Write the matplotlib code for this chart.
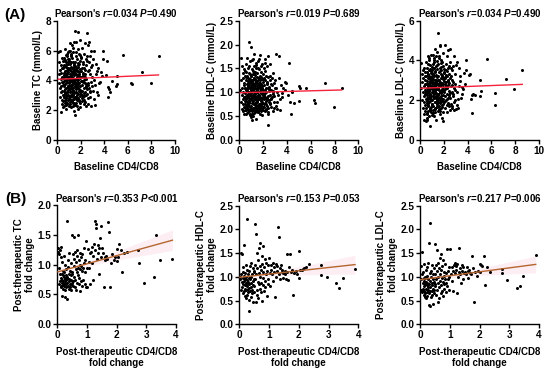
import numpy as np
import matplotlib
matplotlib.use("Agg")
import matplotlib.pyplot as plt
from matplotlib.ticker import FormatStrFormatter

plt.rcParams['font.family'] = ['Liberation Sans', 'DejaVu Sans']
plt.rcParams['font.weight'] = 'bold'
plt.rcParams['mathtext.fontset'] = 'custom'
plt.rcParams['mathtext.it'] = 'Liberation Sans:italic:bold'
plt.rcParams['mathtext.rm'] = 'Liberation Sans:bold'
plt.rcParams['mathtext.bf'] = 'Liberation Sans:bold'

# ---------------- Row A: baseline values (shared x = baseline CD4/CD8) ----------------
base_cd4cd8 = [
    # > 3
    8.60, 7.93, 7.20, 6.30, 6.32, 5.60, 5.05, 5.10, 5.00, 4.62, 4.35, 4.40, 4.30, 4.45, 4.20,
    3.90, 3.85, 4.10, 3.80, 3.60, 3.50, 3.40, 3.30, 3.25, 3.20, 3.15, 3.10, 3.10, 3.05, 3.35,
    3.45, 3.70, 3.20, 3.00, 3.55,
    # 2.5 - 3
    2.52, 2.55, 2.58, 2.60, 2.62, 2.65, 2.68, 2.70, 2.72, 2.75, 2.78, 2.80, 2.82, 2.85, 2.88,
    2.90, 2.92, 2.95, 2.97, 2.60, 2.70, 2.80, 2.55, 2.65, 2.85,
    # 2 - 2.5
    2.02, 2.04, 2.05, 2.07, 2.08, 2.10, 2.12, 2.13, 2.15, 2.17,
    2.18, 2.20, 2.22, 2.23, 2.25, 2.27, 2.28, 2.30, 2.32, 2.33,
    2.35, 2.37, 2.38, 2.40, 2.42, 2.43, 2.45, 2.47, 2.48, 2.50,
    2.03, 2.09, 2.14, 2.19, 2.24, 2.29, 2.34, 2.39, 2.44, 2.49,
    2.06, 2.16, 2.26, 2.36, 2.46,
    # 1.5 - 2
    1.50, 1.51, 1.52, 1.53, 1.54, 1.55, 1.56, 1.57, 1.58, 1.59,
    1.60, 1.61, 1.62, 1.63, 1.64, 1.65, 1.66, 1.67, 1.68, 1.69,
    1.70, 1.71, 1.72, 1.73, 1.74, 1.75, 1.76, 1.77, 1.78, 1.79,
    1.80, 1.81, 1.82, 1.83, 1.84, 1.85, 1.86, 1.87, 1.88, 1.89,
    1.90, 1.91, 1.92, 1.93, 1.94, 1.95, 1.96, 1.97, 1.98, 1.99,
    1.50, 1.53, 1.56, 1.59, 1.62, 1.65, 1.68, 1.71, 1.74, 1.77,
    1.80, 1.83, 1.86, 1.89, 1.92, 1.95, 1.98, 1.55, 1.65, 1.75,
    # 1 - 1.5
    1.00, 1.01, 1.02, 1.03, 1.04, 1.05, 1.06, 1.07, 1.08, 1.09,
    1.10, 1.11, 1.12, 1.13, 1.14, 1.15, 1.16, 1.17, 1.18, 1.19,
    1.20, 1.21, 1.22, 1.23, 1.24, 1.25, 1.26, 1.27, 1.28, 1.29,
    1.30, 1.31, 1.32, 1.33, 1.34, 1.35, 1.36, 1.37, 1.38, 1.39,
    1.40, 1.41, 1.42, 1.43, 1.44, 1.45, 1.46, 1.47, 1.48, 1.49,
    1.00, 1.03, 1.06, 1.09, 1.12, 1.15, 1.18, 1.21, 1.24, 1.27,
    1.30, 1.33, 1.36, 1.39, 1.42, 1.45, 1.48, 1.02, 1.08, 1.14,
    1.20, 1.26, 1.32, 1.38, 1.44, 1.05, 1.15, 1.25, 1.35, 1.45,
    1.10, 1.22, 1.31, 1.40, 1.47,
    # 0.5 - 1
    0.50, 0.51, 0.52, 0.53, 0.54, 0.55, 0.56, 0.57, 0.58, 0.59,
    0.60, 0.61, 0.62, 0.63, 0.64, 0.65, 0.66, 0.67, 0.68, 0.69,
    0.70, 0.71, 0.72, 0.73, 0.74, 0.75, 0.76, 0.77, 0.78, 0.79,
    0.80, 0.81, 0.82, 0.83, 0.84, 0.85, 0.86, 0.87, 0.88, 0.89,
    0.90, 0.91, 0.92, 0.93, 0.94, 0.95, 0.96, 0.97, 0.98, 0.99,
    0.52, 0.56, 0.60, 0.64, 0.68, 0.72, 0.76, 0.80, 0.84, 0.88,
    0.92, 0.96, 0.55, 0.65, 0.75, 0.85, 0.95, 0.58, 0.70, 0.82,
    0.94, 0.62, 0.78, 0.90, 0.98,
    # 0 - 0.5
    0.08, 0.12, 0.15, 0.18, 0.20, 0.22, 0.24, 0.26, 0.28, 0.30,
    0.31, 0.32, 0.34, 0.35, 0.36, 0.38, 0.39, 0.40, 0.42, 0.43,
    0.44, 0.45, 0.46, 0.48, 0.49,
]

base_tc = [
    5.61, 3.84, 4.56, 3.84, 3.78, 5.70, 4.31, 3.76, 3.65, 3.94, 3.55, 3.40, 2.90, 3.20, 5.28,
    5.95, 5.40, 4.35, 4.30, 3.90, 4.80, 3.20, 5.10, 4.40, 3.70, 2.75, 5.95, 4.05, 3.30, 4.60,
    3.05, 4.55, 2.35, 5.45, 3.80,
    7.20, 3.10, 4.60, 6.40, 3.80, 2.40, 5.20, 6.60, 3.50, 5.60, 2.90, 4.40, 3.30, 4.90, 2.30,
    3.90, 5.00, 3.60, 4.20, 2.80, 4.70, 3.20, 5.30, 3.70, 6.00,
    4.20, 3.10, 5.50, 2.60, 4.80, 3.70, 6.20, 3.30, 4.50, 2.90,
    5.10, 3.90, 4.30, 2.40, 5.80, 3.50, 4.00, 2.70, 4.70, 3.20,
    6.50, 3.80, 4.40, 2.30, 5.00, 3.60, 4.10, 3.00, 5.40, 3.40,
    4.60, 2.80, 3.95, 5.25, 3.15, 4.85, 2.55, 4.25, 3.75, 5.65,
    3.05, 4.45, 2.95, 4.15, 3.55,
    7.33, 3.80, 4.50, 2.90, 5.20, 3.40, 4.10, 2.50, 4.70, 3.60,
    6.60, 3.20, 4.40, 5.60, 2.70, 3.90, 4.80, 3.00, 5.40, 3.70,
    4.20, 2.30, 5.00, 3.50, 4.60, 6.10, 3.10, 4.00, 7.24, 2.80,
    4.90, 3.30, 5.80, 4.30, 2.60, 3.85, 5.10, 3.45, 4.55, 2.20,
    6.70, 3.65, 4.15, 2.95, 5.30, 3.25, 4.75, 2.45, 3.95, 5.55,
    1.70, 4.05, 3.55, 5.90, 2.85, 4.35, 3.15, 4.65, 2.05, 5.15,
    3.75, 4.45, 2.65, 3.35, 4.25, 5.70, 3.05, 4.85, 2.75, 3.60,
    4.10, 2.80, 5.30, 3.60, 4.70, 3.20, 6.00, 3.90, 2.40, 4.40,
    5.10, 3.40, 4.00, 2.70, 5.70, 3.70, 4.60, 3.00, 4.90, 2.20,
    4.30, 3.50, 6.40, 3.10, 4.80, 2.60, 4.20, 5.50, 3.30, 3.95,
    2.90, 4.50, 3.80, 5.90, 2.50, 4.15, 3.25, 5.20, 4.05, 1.95,
    4.65, 3.55, 5.00, 2.75, 4.35, 6.60, 3.15, 3.85, 4.95, 2.35,
    5.40, 3.45, 4.25, 2.95, 4.85, 3.65, 5.80, 2.65, 4.55, 3.05,
    4.00, 6.20, 3.35, 4.75, 2.45, 5.15, 3.75, 4.20, 2.85, 5.60,
    3.50, 4.40, 3.00, 4.90, 3.90, 2.55, 5.25, 3.70, 4.60, 3.20,
    6.50, 4.10, 2.30, 5.05, 3.60,
    3.90, 2.60, 4.80, 3.30, 5.50, 2.90, 4.20, 3.60, 5.00, 2.30,
    4.50, 3.70, 6.10, 3.10, 4.00, 2.70, 5.30, 3.40, 4.60, 2.50,
    3.80, 5.70, 3.00, 4.30, 2.80, 4.90, 3.50, 5.20, 2.10, 4.10,
    3.20, 4.70, 2.40, 5.80, 3.90, 4.40, 2.95, 5.10, 3.65, 4.25,
    2.65, 4.85, 3.35, 5.45, 3.05, 4.55, 2.25, 3.85, 6.00, 3.45,
    4.15, 2.85, 4.95, 3.75, 5.35, 2.55, 4.05, 3.25, 4.65, 3.55,
    5.90, 2.75, 4.35, 3.15, 5.05, 2.45, 4.75, 3.95, 2.35, 5.60,
    3.60, 4.50, 3.00, 5.25, 4.00,
    5.90, 4.40, 3.80, 5.20, 6.00, 3.50, 4.70, 2.90, 4.10, 3.60,
    1.86, 5.00, 3.20, 4.50, 2.40, 3.90, 5.50, 2.70, 4.20, 3.30,
    4.80, 2.20, 3.70, 5.30, 3.00,
]

base_hdl = [
    1.10, 0.69, 1.19, 0.83, 0.77, 1.09, 1.13, 1.09, 0.82, 0.77, 0.55, 1.03, 0.80, 1.00, 1.62,
    1.20, 1.22, 0.95, 1.05, 0.90, 1.15, 0.85, 1.30, 0.95, 0.65, 1.00, 1.80, 1.08, 0.72, 1.75,
    0.62, 1.10, 0.80, 1.25, 0.98,
    1.10, 0.75, 1.25, 0.95, 1.60, 0.85, 1.05, 0.70, 1.30, 0.90, 1.15, 0.60, 1.00, 1.40, 0.80,
    1.20, 0.92, 0.68, 1.08, 1.35, 0.88, 1.02, 0.78, 1.18, 0.96,
    0.95, 1.30, 0.70, 1.15, 0.85, 1.50, 0.60, 1.05, 1.25, 0.78,
    1.70, 0.90, 1.10, 0.65, 1.35, 0.82, 1.00, 1.55, 0.72, 1.20,
    0.88, 1.08, 0.55, 0.32, 0.92, 1.75, 0.68, 1.12, 0.80, 1.02,
    1.28, 0.75, 0.98, 1.45, 0.62, 1.18, 0.86, 1.32, 0.58, 1.06,
    0.94, 1.62, 0.76, 1.22, 0.84,
    1.05, 0.80, 1.40, 0.65, 1.15, 0.92, 1.65, 0.72, 1.00, 1.25,
    0.58, 1.10, 0.85, 1.48, 0.70, 1.20, 0.95, 0.62, 1.30, 0.88,
    1.78, 0.75, 1.08, 0.55, 1.35, 0.90, 1.12, 0.68, 1.02, 1.55,
    0.82, 1.18, 0.60, 0.98, 1.42, 0.74, 1.06, 0.86, 1.28, 0.52,
    0.96, 1.60, 0.78, 1.14, 0.66, 1.22, 0.90, 1.04, 0.70, 1.38,
    0.84, 1.12, 0.58, 0.94, 1.70, 0.76, 1.16, 0.64, 1.26, 0.88,
    1.00, 0.72, 1.32, 0.80, 1.10, 0.62, 0.98, 1.50, 0.86, 1.20,
    0.98, 1.35, 0.72, 1.12, 0.60, 1.48, 0.88, 1.05, 0.78, 1.25,
    0.55, 1.15, 0.92, 1.70, 0.68, 1.02, 1.38, 0.82, 1.20, 0.50,
    1.08, 0.95, 1.55, 0.75, 1.30, 0.62, 1.00, 1.80, 0.85, 1.18,
    0.70, 1.42, 0.90, 1.10, 0.58, 1.28, 0.96, 1.62, 0.80, 1.06,
    0.45, 1.22, 0.88, 1.50, 0.74, 1.14, 0.66, 1.04, 1.32, 0.92,
    1.94, 0.84, 1.16, 0.64, 1.26, 0.94, 1.45, 0.76, 1.08, 0.56,
    1.36, 0.86, 1.00, 1.58, 0.70, 1.20, 0.82, 1.12, 0.42, 1.04,
    0.96, 1.40, 0.78, 1.24, 0.60, 1.10, 0.90, 1.30, 0.68, 1.02,
    1.68, 0.88, 1.14, 0.74, 1.00,
    1.10, 0.75, 1.45, 0.92, 0.62, 1.25, 0.85, 1.60, 0.70, 1.05,
    0.55, 1.35, 0.95, 0.68, 1.18, 0.80, 1.72, 0.88, 1.02, 0.58,
    1.30, 0.76, 1.12, 0.90, 0.64, 1.50, 0.82, 1.20, 2.05, 0.72,
    1.00, 1.40, 0.60, 0.94, 1.15, 0.78, 1.65, 0.86, 1.08, 0.52,
    1.28, 0.70, 0.98, 1.38, 0.84, 1.22, 0.66, 1.04, 0.48, 1.16,
    0.90, 1.32, 0.74, 1.06, 0.56, 1.24, 0.96, 1.55, 0.80, 1.10,
    0.62, 1.00, 1.42, 0.72, 1.14, 0.88, 1.34, 0.68, 0.94, 1.20,
    0.54, 1.02, 0.82, 1.26, 0.92,
    1.05, 1.72, 0.80, 1.25, 0.95, 1.55, 0.65, 1.10, 0.85, 1.40,
    0.60, 1.00, 1.30, 0.75, 1.15, 0.55, 0.90, 1.20, 0.70, 1.48,
    0.82, 1.08, 0.62, 0.98, 1.35,
]

base_ldl = [
    3.54, 2.58, 3.08, 2.36, 1.78, 4.07, 3.00, 2.45, 2.22, 2.25, 1.34, 2.25, 2.06, 2.30, 3.30,
    4.04, 3.50, 3.25, 2.80, 2.55, 2.30, 2.95, 3.60, 2.70, 2.05, 1.75, 3.90, 2.40, 1.55, 3.20,
    2.10, 3.35, 1.60, 3.75, 2.65,
    4.60, 2.10, 3.20, 2.70, 1.80, 3.50, 2.40, 3.00, 1.60, 2.90, 3.70, 2.20, 2.60, 4.20, 1.90,
    2.80, 3.30, 2.00, 2.50, 3.60, 1.70, 2.30, 3.10, 2.75, 1.50,
    2.50, 3.40, 1.90, 2.80, 4.80, 2.20, 3.10, 1.60, 2.70, 3.80,
    2.00, 2.90, 3.50, 1.40, 2.60, 3.20, 2.30, 4.20, 1.80, 2.75,
    3.00, 2.10, 3.60, 1.70, 2.45, 3.30, 2.15, 2.85, 1.50, 3.90,
    2.40, 3.15, 1.95, 2.65, 3.45, 2.05, 2.95, 1.85, 3.70, 2.35,
    2.55, 3.25, 1.75, 4.55, 2.25,
    2.60, 5.38, 1.90, 3.20, 2.30, 3.80, 1.50, 2.80, 3.40, 2.10,
    4.20, 2.50, 1.70, 3.00, 2.90, 4.75, 1.30, 2.40, 3.60, 2.00,
    4.80, 2.70, 1.85, 3.30, 2.20, 3.10, 1.60, 2.75, 4.00, 2.35,
    3.50, 1.95, 2.85, 1.10, 3.25, 2.45, 3.90, 1.75, 2.55, 3.15,
    2.05, 4.40, 2.65, 1.40, 3.05, 2.25, 3.70, 1.80, 2.95, 3.35,
    2.15, 3.00, 1.55, 2.70, 4.10, 2.40, 1.90, 3.45, 2.85, 2.10,
    3.65, 1.65, 2.50, 3.20, 0.95, 2.80, 3.55, 2.30, 1.45, 3.85,
    2.70, 3.50, 1.80, 2.40, 3.10, 2.00, 4.30, 2.60, 1.50, 3.30,
    2.20, 2.90, 3.80, 1.70, 2.50, 3.20, 1.20, 2.80, 3.60, 2.30,
    4.00, 2.10, 2.75, 1.60, 3.40, 2.45, 1.90, 4.60, 2.65, 3.00,
    1.40, 2.55, 3.70, 2.15, 2.85, 1.00, 3.25, 2.35, 4.20, 1.85,
    2.95, 2.05, 3.55, 1.65, 2.60, 3.15, 1.95, 4.45, 2.25, 2.80,
    1.75, 3.35, 2.50, 1.35, 3.05, 2.70, 3.90, 2.10, 2.40, 1.55,
    3.45, 2.20, 2.90, 1.80, 3.75, 2.55, 1.45, 3.20, 2.35, 2.65,
    4.10, 1.90, 2.75, 3.00, 2.05, 1.25, 3.60, 2.45, 2.85, 1.70,
    3.30, 2.15, 2.60, 3.95, 2.00,
    2.40, 3.20, 1.60, 2.80, 3.90, 2.10, 2.60, 1.30, 3.40, 2.25,
    1.00, 2.95, 3.60, 1.85, 2.50, 4.20, 2.05, 3.10, 1.45, 2.70,
    3.30, 1.70, 2.35, 4.00, 2.15, 2.85, 1.20, 3.50, 2.45, 1.90,
    3.05, 0.69, 2.60, 3.75, 1.55, 2.30, 3.15, 1.95, 2.75, 4.30,
    2.00, 1.40, 2.90, 3.45, 2.20, 1.65, 3.00, 2.55, 1.80, 3.65,
    2.35, 1.10, 2.80, 3.25, 1.75, 2.50, 4.10, 2.10, 2.95, 1.50,
    3.35, 2.65, 1.95, 3.80, 2.25, 1.60, 3.00, 2.40, 1.85, 3.55,
    2.70, 1.35, 3.20, 2.05, 2.85,
    3.85, 2.60, 3.30, 2.00, 2.90, 3.50, 1.60, 2.40, 3.10, 1.00,
    2.70, 1.90, 3.60, 2.20, 1.30, 2.80, 3.40, 1.75, 2.50, 3.00,
    1.45, 2.30, 3.20, 2.05, 0.95,
]

# ---------------- Row B: post-therapeutic fold changes (shared x) ----------------
post_cd4cd8 = [
    3.89, 3.47, 3.35, 3.25, 2.94, 2.76, 2.74, 2.35, 2.24, 2.18, 2.15, 2.10, 2.05, 2.02, 2.00,
    1.52, 1.55, 1.58, 1.60, 1.62, 1.65, 1.68, 1.72, 1.75, 1.78, 1.82, 1.85, 1.90, 1.95,
    1.02, 1.04, 1.06, 1.08, 1.10, 1.12, 1.14, 1.16, 1.18, 1.20, 1.22, 1.24,
    1.26, 1.28, 1.30, 1.32, 1.34, 1.36, 1.38, 1.40, 1.42, 1.44, 1.46, 1.48,
    0.50, 0.51, 0.52, 0.53, 0.54, 0.55, 0.56, 0.57, 0.58, 0.59,
    0.60, 0.61, 0.62, 0.63, 0.64, 0.65, 0.66, 0.67, 0.68, 0.69,
    0.70, 0.71, 0.72, 0.73, 0.74, 0.75, 0.76, 0.77, 0.78, 0.79,
    0.80, 0.81, 0.82, 0.84, 0.85, 0.86, 0.88, 0.89, 0.90, 0.92,
    0.93, 0.95, 0.96, 0.97, 0.99,
    0.02, 0.03, 0.05, 0.06, 0.07, 0.08, 0.09, 0.10, 0.11, 0.12,
    0.12, 0.13, 0.14, 0.15, 0.15, 0.16, 0.17, 0.18, 0.18, 0.19,
    0.20, 0.20, 0.21, 0.22, 0.22, 0.23, 0.24, 0.25, 0.25, 0.26,
    0.27, 0.27, 0.28, 0.29, 0.30, 0.30, 0.31, 0.32, 0.33, 0.34,
    0.34, 0.35, 0.36, 0.37, 0.38, 0.39, 0.40, 0.40, 0.41, 0.42,
    0.43, 0.44, 0.45, 0.45, 0.46, 0.47, 0.48, 0.48, 0.49, 0.26,
    0.33, 0.17,
]

post_tc = [
    1.09, 1.08, 1.50, 0.80, 0.69, 1.02, 1.24, 1.22, 1.20, 0.88, 1.25, 1.35, 1.13, 1.06, 1.26,
    1.28, 1.20, 0.62, 1.12, 1.07, 1.15, 1.10, 1.71, 1.55, 0.63, 1.02, 1.18, 1.08, 1.13,
    0.62, 1.27, 0.95, 1.05, 1.20, 0.68, 1.22, 1.30, 1.02, 1.15, 0.75, 1.35,
    1.74, 1.25, 1.68, 1.62, 1.10, 1.33, 1.20, 0.85, 1.28, 1.45, 1.65, 1.12,
    1.50, 0.85, 0.72, 1.18, 0.65, 1.46, 0.98, 0.80, 1.10, 0.62,
    1.22, 0.75, 0.92, 1.05, 0.58, 1.15, 0.88, 0.70, 1.25, 0.95,
    1.50, 0.82, 0.68, 1.08, 0.78, 1.20, 0.92, 0.55, 1.00, 0.72,
    0.98, 1.12, 0.65, 0.90, 1.18, 0.75, 0.95, 1.02, 1.28, 0.68,
    1.08, 0.88, 1.40, 0.62, 0.95,
    1.28, 1.22, 0.95, 1.18, 0.68, 1.25, 0.72, 0.85, 1.12, 0.65,
    0.78, 1.30, 0.62, 0.70, 1.05, 0.48, 0.75, 0.82, 0.66, 0.90,
    0.60, 0.72, 1.15, 0.68, 0.80, 0.64, 0.88, 0.70, 0.58, 0.76,
    0.45, 1.00, 0.67, 0.82, 0.74, 0.92, 0.62, 1.74, 0.43, 0.78,
    0.70, 0.96, 0.65, 1.08, 0.72, 0.84, 0.60, 0.76, 1.20, 0.68,
    0.90, 0.63, 0.75, 1.02, 0.58, 0.82, 0.70, 0.66, 0.88, 0.73,
    0.80, 0.85,
]

post_hdl = [
    1.17, 0.97, 0.76, 0.88, 0.99, 1.04, 1.24, 1.28, 1.21, 1.19, 1.16, 1.14, 1.15, 0.97, 1.54,
    1.05, 1.12, 0.95, 1.48, 1.10, 0.93, 1.20, 1.49, 1.10, 1.15, 0.62, 1.08, 1.12, 1.05,
    1.08, 0.80, 1.25, 1.15, 1.05, 1.30, 0.92, 1.20, 1.10, 0.57, 1.28, 1.00,
    1.12, 1.22, 2.06, 1.05, 1.84, 1.18, 0.95, 1.25, 1.10, 1.15, 0.98, 1.08,
    1.12, 0.80, 2.12, 1.25, 0.95, 0.48, 1.05, 1.91, 0.72, 1.50,
    1.18, 0.62, 0.90, 1.35, 0.55, 1.08, 0.85, 1.60, 1.22, 0.75,
    1.00, 1.72, 0.68, 1.15, 0.88, 1.45, 0.50, 1.28, 0.98, 0.82,
    1.10, 1.65, 0.70, 1.20, 0.92, 1.38, 0.78, 1.05, 1.30, 0.60,
    1.12, 0.95, 1.25, 0.85, 1.40,
    1.00, 0.95, 1.50, 0.72, 1.05, 0.90, 1.48, 0.78, 1.10, 0.65,
    0.98, 0.85, 1.20, 0.70, 1.02, 0.92, 1.67, 0.75, 0.60, 1.08,
    0.82, 0.95, 0.55, 1.25, 0.88, 0.72, 1.00, 0.62, 0.94, 1.15,
    2.23, 0.80, 0.68, 1.05, 0.90, 0.75, 0.52, 0.98, 1.12, 0.29,
    0.85, 0.70, 1.22, 0.95, 0.58, 1.00, 0.78, 1.30, 0.88, 0.65,
    1.05, 0.72, 0.92, 0.48, 1.18, 0.82, 0.96, 0.68, 1.10, 0.86,
    0.76, 0.99,
]

post_ldl = [
    1.46, 1.02, 0.80, 0.76, 0.93, 1.08, 1.17, 1.10, 1.20, 0.83, 1.45, 1.22, 1.25, 1.28, 1.10,
    1.10, 1.05, 1.20, 1.12, 0.98, 1.15, 1.08, 1.05, 1.44, 1.18, 0.46, 1.10, 1.02, 1.12,
    1.58, 1.05, 0.92, 1.20, 1.12, 0.70, 1.25, 1.30, 1.08, 1.22, 1.15, 0.65,
    1.28, 1.00, 1.61, 1.10, 1.18, 1.05, 0.88, 1.25, 1.12, 1.20, 0.95, 1.08,
    1.70, 0.85, 1.05, 0.62, 1.25, 0.95, 1.56, 0.72, 1.12, 0.48,
    1.30, 0.88, 1.00, 0.55, 1.18, 0.78, 1.40, 0.92, 1.05, 0.65,
    1.48, 0.82, 1.15, 0.98, 0.70, 1.22, 0.90, 0.60, 1.35, 1.02,
    0.85, 1.10, 0.75, 1.28, 0.95, 0.68, 1.08, 0.88, 1.58, 0.80,
    1.12, 0.95, 1.20, 0.72, 1.00,
    0.95, 1.22, 0.72, 1.05, 0.68, 1.52, 0.88, 0.75, 1.10, 0.62,
    0.98, 0.80, 1.28, 0.70, 0.92, 0.58, 1.00, 0.85, 0.66, 1.15,
    0.74, 0.90, 0.55, 1.20, 0.82, 0.68, 1.02, 0.60, 0.88, 0.78,
    0.95, 1.30, 0.72, 1.72, 0.40, 0.85, 0.65, 1.08, 0.92, 2.14,
    0.38, 0.78, 1.00, 0.58, 1.12, 0.70, 0.88, 0.62, 1.25, 0.82,
    0.95, 0.43, 0.75, 1.05, 0.66, 0.90, 0.72, 1.18, 0.80, 0.86,
    0.70, 0.98,
]

# Regression lines: (intercept, slope)
fit_base_tc, fit_base_hdl, fit_base_ldl = (4.07, 0.034), (0.99, 0.0068), (2.60, 0.023)
fit_post_tc, fit_post_hdl, fit_post_ldl = (0.877, 0.137), (0.99, 0.069), (0.94, 0.083)

stats_text = [
    "Pearson's $r$=0.034 $P$=0.490",
    "Pearson's $r$=0.019 $P$=0.689",
    "Pearson's $r$=0.034 $P$=0.490",
    "Pearson's $r$=0.353 $P$<0.001",
    "Pearson's $r$=0.153 $P$=0.053",
    "Pearson's $r$=0.217 $P$=0.006",
]

for lst in (base_tc, base_hdl, base_ldl):
    assert len(lst) == len(base_cd4cd8), (len(lst), len(base_cd4cd8))
for lst in (post_tc, post_hdl, post_ldl):
    assert len(lst) == len(post_cd4cd8), (len(lst), len(post_cd4cd8))

fig = plt.figure(figsize=(5.5, 3.72), dpi=100)

W, H = 550.0, 372.0
def rect(l, r, t, b):
    return [l / W, 1 - b / H, (r - l) / W, (b - t) / H]

panels = [
    dict(pos=rect(57.3, 175.0, 20.7, 140.0), x=base_cd4cd8, y=base_tc, fit=fit_base_tc,
         xlim=(0, 10), xt=[0, 2, 4, 6, 8, 10], ylim=(0, 8), yt=[0, 2, 4, 6, 8], yf='%d',
         yl="Baseline TC (mmol/L)", xl="Baseline CD4/CD8", col='#f5223c', band=False),
    dict(pos=rect(239.3, 358.3, 20.7, 140.0), x=base_cd4cd8, y=base_hdl, fit=fit_base_hdl,
         xlim=(0, 10), xt=[0, 2, 4, 6, 8, 10], ylim=(0, 2.5), yt=[0, 0.5, 1, 1.5, 2, 2.5], yf='%.1f',
         yl="Baseline HDL-C (mmol/L)", xl="Baseline CD4/CD8", col='#f5223c', band=False),
    dict(pos=rect(420.0, 539.0, 20.7, 140.0), x=base_cd4cd8, y=base_ldl, fit=fit_base_ldl,
         xlim=(0, 10), xt=[0, 2, 4, 6, 8, 10], ylim=(0, 6), yt=[0, 2, 4, 6], yf='%d',
         yl="Baseline LDL-C (mmol/L)", xl="Baseline CD4/CD8", col='#f5223c', band=False),
    dict(pos=rect(57.3, 175.7, 205.0, 324.3), x=post_cd4cd8, y=post_tc, fit=fit_post_tc,
         xlim=(0, 4), xt=[0, 1, 2, 3, 4], ylim=(0, 2.0), yt=[0, 0.5, 1, 1.5, 2], yf='%.1f',
         yl="Post-therapeutic TC\nfold change", xl="Post-therapeutic CD4/CD8\nfold change",
         col='#b5652e', band=True),
    dict(pos=rect(239.3, 358.3, 205.7, 324.3), x=post_cd4cd8, y=post_hdl, fit=fit_post_hdl,
         xlim=(0, 4), xt=[0, 1, 2, 3, 4], ylim=(0, 2.5), yt=[0, 0.5, 1, 1.5, 2, 2.5], yf='%.1f',
         yl="Post-therapeutic HDL-C\nfold change", xl="Post-therapeutic CD4/CD8\nfold change",
         col='#b5652e', band=True),
    dict(pos=rect(420.0, 539.0, 205.7, 324.3), x=post_cd4cd8, y=post_ldl, fit=fit_post_ldl,
         xlim=(0, 4), xt=[0, 1, 2, 3, 4], ylim=(0, 2.5), yt=[0, 0.5, 1, 1.5, 2, 2.5], yf='%.1f',
         yl="Post-therapeutic LDL-C\nfold change", xl="Post-therapeutic CD4/CD8\nfold change",
         col='#b5652e', band=True),
]

for p, title in zip(panels, stats_text):
    ax = fig.add_axes(p['pos'])
    x = np.asarray(p['x']); y = np.asarray(p['y'])
    ax.scatter(x, y, s=4.8, c='black', linewidths=0, zorder=3, clip_on=False)
    b0, b1 = p['fit']
    xs = np.linspace(x.min(), x.max(), 100)
    ys = b0 + b1 * xs
    if p['band']:
        resid = y - (b0 + b1 * x)
        n = len(x)
        s = np.sqrt(np.sum(resid ** 2) / (n - 2))
        sxx = np.sum((x - x.mean()) ** 2)
        hw = 1.97 * s * np.sqrt(1.0 / n + (xs - x.mean()) ** 2 / sxx)
        ax.fill_between(xs, ys - hw, ys + hw, color='#fde8f0', alpha=0.7, lw=0, zorder=2)
    ax.plot(xs, ys, color=p['col'], lw=1.0, zorder=4)
    ax.set_xlim(*p['xlim']); ax.set_ylim(*p['ylim'])
    ax.set_xticks(p['xt']); ax.set_yticks(p['yt'])
    ax.yaxis.set_major_formatter(FormatStrFormatter(p['yf']))
    for sp in ('top', 'right'):
        ax.spines[sp].set_visible(False)
    for sp in ('left', 'bottom'):
        ax.spines[sp].set_linewidth(1.0)
    ax.tick_params(length=2.8, width=1.0, labelsize=7.2, pad=1.2)
    ax.set_ylabel(p['yl'], fontsize=7, fontweight='bold', labelpad=2, linespacing=1.15)
    ax.set_xlabel(p['xl'], fontsize=7, fontweight='bold', labelpad=5, linespacing=1.15)
    ax.set_title(title, fontsize=7, fontweight='bold', pad=2.5)

fig.text(4 / W, 1 - 15.5 / H, "(A)", fontsize=11, fontweight='bold', va='center', ha='left')
fig.text(5 / W, 1 - 198.5 / H, "(B)", fontsize=11, fontweight='bold', va='center', ha='left')

fig.savefig("out.png", dpi=100)
